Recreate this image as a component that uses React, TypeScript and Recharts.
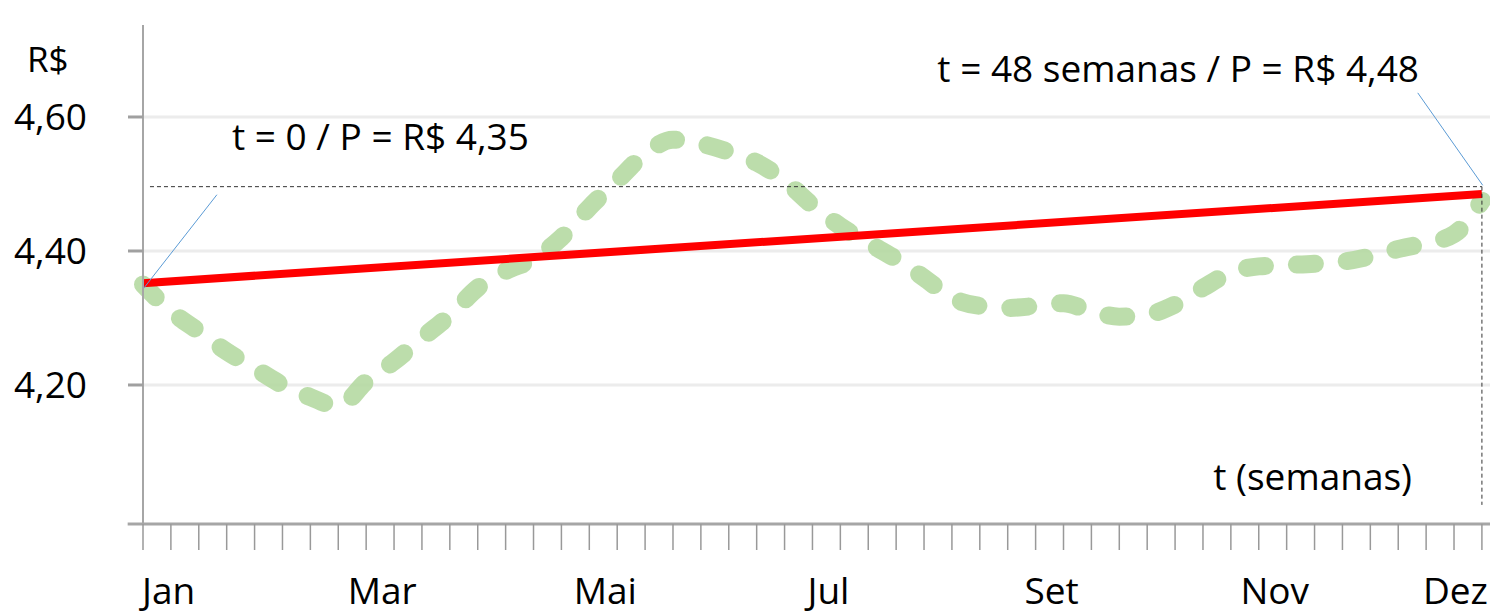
import * as React from "react"
import { LineChart, Line, XAxis, YAxis, CartesianGrid, ReferenceLine } from "recharts"

const weeks = [
  0, 1, 2, 3, 4, 5, 6, 7, 8, 9, 10, 11, 12, 13, 14, 15, 16, 17, 18, 19, 20, 21, 22, 23, 24,
  25, 26, 27, 28, 29, 30, 31, 32, 33, 34, 35, 36, 37, 38, 39, 40, 41, 42, 43, 44, 45, 46, 47, 48,
]
const prices = [
  4.35, 4.31, 4.28, 4.25, 4.225, 4.2, 4.182, 4.168, 4.205, 4.235, 4.27, 4.304, 4.345, 4.37,
  4.388, 4.42, 4.465, 4.505, 4.545, 4.566, 4.56, 4.548, 4.532, 4.505, 4.468, 4.437, 4.412,
  4.388, 4.36, 4.33, 4.318, 4.315, 4.318, 4.322, 4.31, 4.302, 4.305, 4.32, 4.345, 4.368,
  4.377, 4.379, 4.381, 4.384, 4.392, 4.403, 4.412, 4.425, 4.475,
]

// reta de tendência (t = 0 -> t = 48)
const trendWeeks = [0, 48]
const trendPrices = [4.352, 4.485]

const monthWeeks = [0, 8, 16, 24, 32, 40, 48]
const monthNames = ["Jan", "Mar", "Mai", "Jul", "Set", "Nov", "Dez"]

const priceTicks = [4.2, 4.4, 4.6]

const priceData = weeks.map((t, i) => ({ t, p: prices[i] }))
const trendData = trendWeeks.map((t, i) => ({ t, p: trendPrices[i] }))

const W = 1490
const H = 614
const Y_MIN = 3.9925
const Y_MAX = 4.7373
const X_MAX = 48.29
const FONT = "'Open Sans', sans-serif"
const AXIS = "#a6a6a6"

function MonthTick(props: any) {
  const { x, y, payload } = props
  const i = monthWeeks.indexOf(payload.value)
  if (i < 0) return null
  const last = i === monthWeeks.length - 1
  const anchor = i === 0 ? "start" : last ? "end" : "middle"
  const dx = i === 0 ? -1 : last ? 6 : 16
  return (
    <text x={x + dx} y={y + 52} textAnchor={anchor} fontSize={37} fontFamily={FONT} fill="#000">
      {monthNames[i]}
    </text>
  )
}

export default function App() {
  return (
    <div style={{ position: "absolute", left: 0, top: 0, width: W, height: H, background: "#fff", fontFamily: FONT }}>
      <LineChart width={W} height={H} data={priceData} margin={{ top: 25, right: 0, bottom: 0, left: 0 }}>
        <CartesianGrid vertical={false} horizontalValues={priceTicks} stroke="#ececec" strokeWidth={3} />
        <XAxis
          dataKey="t"
          type="number"
          domain={[0, X_MAX]}
          ticks={weeks}
          interval={0}
          height={90}
          tickSize={26}
          axisLine={{ stroke: AXIS, strokeWidth: 3 }}
          tickLine={{ stroke: "#999", strokeWidth: 1.5 }}
          tick={<MonthTick />}
        />
        <YAxis
          type="number"
          domain={[Y_MIN, Y_MAX]}
          ticks={priceTicks}
          width={143}
          tickSize={15}
          tickMargin={41}
          axisLine={{ stroke: AXIS, strokeWidth: 2 }}
          tickLine={{ stroke: "#a0a0a0", strokeWidth: 3 }}
          tick={{ fontSize: 37, fontFamily: FONT, fill: "#000" }}
          tickFormatter={(v: number) => v.toFixed(2).replace(".", ",")}
        />
        <ReferenceLine
          segment={[{ x: -0.55, y: Y_MIN }, { x: 0, y: Y_MIN }]}
          ifOverflow="visible"
          stroke={AXIS}
          strokeWidth={3}
        />
        <Line
          dataKey="p"
          type="monotone"
          stroke="#b3d89f"
          strokeOpacity={0.88}
          strokeWidth={18}
          strokeDasharray="18 32"
          strokeLinecap="round"
          dot={false}
          activeDot={false}
          isAnimationActive={false}
        />
        <Line
          data={trendData}
          dataKey="p"
          type="linear"
          stroke="#ff0000"
          strokeWidth={8}
          dot={false}
          activeDot={false}
          isAnimationActive={false}
        />
        <ReferenceLine
          segment={[{ x: 0.25, y: 4.496 }, { x: 48, y: 4.496 }]}
          stroke="#333"
          strokeWidth={1}
          strokeDasharray="4 3"
        />
        <ReferenceLine
          segment={[{ x: 48, y: 4.496 }, { x: 48, y: 4.021 }]}
          stroke="#333"
          strokeWidth={1}
          strokeDasharray="4 3"
        />
        <ReferenceLine
          segment={[{ x: 0, y: 4.343 }, { x: 2.65, y: 4.484 }]}
          ifOverflow="visible"
          stroke="#5b9bd5"
          strokeWidth={1}
        />
        <ReferenceLine
          segment={[{ x: 45.7, y: 4.636 }, { x: 48.03, y: 4.498 }]}
          ifOverflow="visible"
          stroke="#5b9bd5"
          strokeWidth={1}
        />
      </LineChart>
      <svg width={W} height={H} style={{ position: "absolute", left: 0, top: 0, pointerEvents: "none" }}>
        <g fontFamily={FONT} fill="#000">
          <text x={27} y={72} fontSize={35}>R$</text>
          <text x={232} y={150} fontSize={37}>t = 0 / P = R$ 4,35</text>
          <text x={1419} y={82} fontSize={37} textAnchor="end">t = 48 semanas / P = R$ 4,48</text>
          <text x={1412} y={490} fontSize={37} textAnchor="end">t (semanas)</text>
        </g>
      </svg>
    </div>
  )
}
